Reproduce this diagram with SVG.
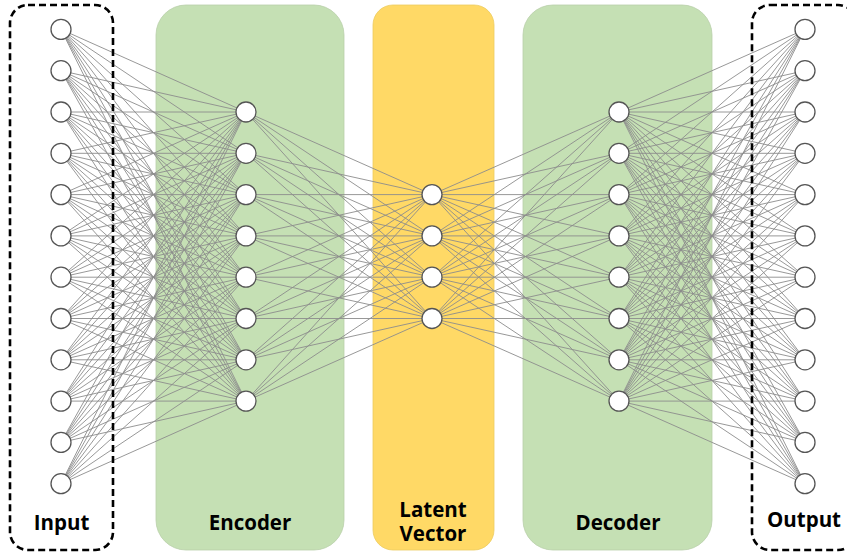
<svg xmlns="http://www.w3.org/2000/svg" width="847" height="555" viewBox="0 0 847 555">
<style>
.n{fill:#fff;stroke:#555;stroke-width:1.3}
.e{fill:none;stroke:#8c8c8c;stroke-width:0.9}
.dash{fill:none;stroke:#000;stroke-width:2.6;stroke-dasharray:7 4}
.lbl{font-family:"Open Sans","Noto Sans",sans-serif;font-weight:700;font-size:20.5px;fill:#000;text-anchor:middle}
</style>
<rect width="847" height="555" fill="#fff"/>
<g id="encoder-bg"><rect x="156" y="5" width="188" height="545" rx="30" fill="#c5e0b4" stroke="#b9cfa9" stroke-width="0.8"/></g>
<g id="latent-bg"><rect x="373" y="5" width="121" height="545" rx="20" fill="#ffd966" stroke="#eccb60" stroke-width="0.8"/></g>
<g id="decoder-bg"><rect x="523" y="5" width="189" height="545" rx="30" fill="#c5e0b4" stroke="#b9cfa9" stroke-width="0.8"/></g>
<g id="connectors">
<path class="e" d="M61 29.4L246 112M61 29.4L246 153.3M61 29.4L246 194.6M61 29.4L246 235.9M61 29.4L246 277.2M61 29.4L246 318.5M61 29.4L246 359.8M61 29.4L246 401.1
M61 70.7L246 112M61 70.7L246 153.3M61 70.7L246 194.6M61 70.7L246 235.9M61 70.7L246 277.2M61 70.7L246 318.5M61 70.7L246 359.8M61 70.7L246 401.1
M61 112L246 112M61 112L246 153.3M61 112L246 194.6M61 112L246 235.9M61 112L246 277.2M61 112L246 318.5M61 112L246 359.8M61 112L246 401.1
M61 153.3L246 112M61 153.3L246 153.3M61 153.3L246 194.6M61 153.3L246 235.9M61 153.3L246 277.2M61 153.3L246 318.5M61 153.3L246 359.8M61 153.3L246 401.1
M61 194.6L246 112M61 194.6L246 153.3M61 194.6L246 194.6M61 194.6L246 235.9M61 194.6L246 277.2M61 194.6L246 318.5M61 194.6L246 359.8M61 194.6L246 401.1
M61 235.9L246 112M61 235.9L246 153.3M61 235.9L246 194.6M61 235.9L246 235.9M61 235.9L246 277.2M61 235.9L246 318.5M61 235.9L246 359.8M61 235.9L246 401.1
M61 277.2L246 112M61 277.2L246 153.3M61 277.2L246 194.6M61 277.2L246 235.9M61 277.2L246 277.2M61 277.2L246 318.5M61 277.2L246 359.8M61 277.2L246 401.1
M61 318.5L246 112M61 318.5L246 153.3M61 318.5L246 194.6M61 318.5L246 235.9M61 318.5L246 277.2M61 318.5L246 318.5M61 318.5L246 359.8M61 318.5L246 401.1
M61 359.8L246 112M61 359.8L246 153.3M61 359.8L246 194.6M61 359.8L246 235.9M61 359.8L246 277.2M61 359.8L246 318.5M61 359.8L246 359.8M61 359.8L246 401.1
M61 401.1L246 112M61 401.1L246 153.3M61 401.1L246 194.6M61 401.1L246 235.9M61 401.1L246 277.2M61 401.1L246 318.5M61 401.1L246 359.8M61 401.1L246 401.1
M61 442.4L246 112M61 442.4L246 153.3M61 442.4L246 194.6M61 442.4L246 235.9M61 442.4L246 277.2M61 442.4L246 318.5M61 442.4L246 359.8M61 442.4L246 401.1
M61 483.7L246 112M61 483.7L246 153.3M61 483.7L246 194.6M61 483.7L246 235.9M61 483.7L246 277.2M61 483.7L246 318.5M61 483.7L246 359.8M61 483.7L246 401.1"/>
<path class="e" d="M246 112L432 194.6M246 112L432 235.9M246 112L432 277.2M246 112L432 318.5
M246 153.3L432 194.6M246 153.3L432 235.9M246 153.3L432 277.2M246 153.3L432 318.5
M246 194.6L432 194.6M246 194.6L432 235.9M246 194.6L432 277.2M246 194.6L432 318.5
M246 235.9L432 194.6M246 235.9L432 235.9M246 235.9L432 277.2M246 235.9L432 318.5
M246 277.2L432 194.6M246 277.2L432 235.9M246 277.2L432 277.2M246 277.2L432 318.5
M246 318.5L432 194.6M246 318.5L432 235.9M246 318.5L432 277.2M246 318.5L432 318.5
M246 359.8L432 194.6M246 359.8L432 235.9M246 359.8L432 277.2M246 359.8L432 318.5
M246 401.1L432 194.6M246 401.1L432 235.9M246 401.1L432 277.2M246 401.1L432 318.5"/>
<path class="e" d="M619 112L432 194.6M619 112L432 235.9M619 112L432 277.2M619 112L432 318.5
M619 153.3L432 194.6M619 153.3L432 235.9M619 153.3L432 277.2M619 153.3L432 318.5
M619 194.6L432 194.6M619 194.6L432 235.9M619 194.6L432 277.2M619 194.6L432 318.5
M619 235.9L432 194.6M619 235.9L432 235.9M619 235.9L432 277.2M619 235.9L432 318.5
M619 277.2L432 194.6M619 277.2L432 235.9M619 277.2L432 277.2M619 277.2L432 318.5
M619 318.5L432 194.6M619 318.5L432 235.9M619 318.5L432 277.2M619 318.5L432 318.5
M619 359.8L432 194.6M619 359.8L432 235.9M619 359.8L432 277.2M619 359.8L432 318.5
M619 401.1L432 194.6M619 401.1L432 235.9M619 401.1L432 277.2M619 401.1L432 318.5"/>
<path class="e" d="M805 29.4L619 112M805 29.4L619 153.3M805 29.4L619 194.6M805 29.4L619 235.9M805 29.4L619 277.2M805 29.4L619 318.5M805 29.4L619 359.8M805 29.4L619 401.1
M805 70.7L619 112M805 70.7L619 153.3M805 70.7L619 194.6M805 70.7L619 235.9M805 70.7L619 277.2M805 70.7L619 318.5M805 70.7L619 359.8M805 70.7L619 401.1
M805 112L619 112M805 112L619 153.3M805 112L619 194.6M805 112L619 235.9M805 112L619 277.2M805 112L619 318.5M805 112L619 359.8M805 112L619 401.1
M805 153.3L619 112M805 153.3L619 153.3M805 153.3L619 194.6M805 153.3L619 235.9M805 153.3L619 277.2M805 153.3L619 318.5M805 153.3L619 359.8M805 153.3L619 401.1
M805 194.6L619 112M805 194.6L619 153.3M805 194.6L619 194.6M805 194.6L619 235.9M805 194.6L619 277.2M805 194.6L619 318.5M805 194.6L619 359.8M805 194.6L619 401.1
M805 235.9L619 112M805 235.9L619 153.3M805 235.9L619 194.6M805 235.9L619 235.9M805 235.9L619 277.2M805 235.9L619 318.5M805 235.9L619 359.8M805 235.9L619 401.1
M805 277.2L619 112M805 277.2L619 153.3M805 277.2L619 194.6M805 277.2L619 235.9M805 277.2L619 277.2M805 277.2L619 318.5M805 277.2L619 359.8M805 277.2L619 401.1
M805 318.5L619 112M805 318.5L619 153.3M805 318.5L619 194.6M805 318.5L619 235.9M805 318.5L619 277.2M805 318.5L619 318.5M805 318.5L619 359.8M805 318.5L619 401.1
M805 359.8L619 112M805 359.8L619 153.3M805 359.8L619 194.6M805 359.8L619 235.9M805 359.8L619 277.2M805 359.8L619 318.5M805 359.8L619 359.8M805 359.8L619 401.1
M805 401.1L619 112M805 401.1L619 153.3M805 401.1L619 194.6M805 401.1L619 235.9M805 401.1L619 277.2M805 401.1L619 318.5M805 401.1L619 359.8M805 401.1L619 401.1
M805 442.4L619 112M805 442.4L619 153.3M805 442.4L619 194.6M805 442.4L619 235.9M805 442.4L619 277.2M805 442.4L619 318.5M805 442.4L619 359.8M805 442.4L619 401.1
M805 483.7L619 112M805 483.7L619 153.3M805 483.7L619 194.6M805 483.7L619 235.9M805 483.7L619 277.2M805 483.7L619 318.5M805 483.7L619 359.8M805 483.7L619 401.1"/>
</g>
<g id="input">
<rect class="dash" x="10" y="5" width="103" height="545" rx="18"/>
<circle class="n" cx="61" cy="29.4" r="10"/><circle class="n" cx="61" cy="70.7" r="10"/><circle class="n" cx="61" cy="112" r="10"/><circle class="n" cx="61" cy="153.3" r="10"/><circle class="n" cx="61" cy="194.6" r="10"/><circle class="n" cx="61" cy="235.9" r="10"/><circle class="n" cx="61" cy="277.2" r="10"/><circle class="n" cx="61" cy="318.5" r="10"/><circle class="n" cx="61" cy="359.8" r="10"/><circle class="n" cx="61" cy="401.1" r="10"/><circle class="n" cx="61" cy="442.4" r="10"/><circle class="n" cx="61" cy="483.7" r="10"/>
<text class="lbl" x="61.5" y="530">Input</text>
</g>
<g id="encoder">
<circle class="n" cx="246" cy="112" r="10"/><circle class="n" cx="246" cy="153.3" r="10"/><circle class="n" cx="246" cy="194.6" r="10"/><circle class="n" cx="246" cy="235.9" r="10"/><circle class="n" cx="246" cy="277.2" r="10"/><circle class="n" cx="246" cy="318.5" r="10"/><circle class="n" cx="246" cy="359.8" r="10"/><circle class="n" cx="246" cy="401.1" r="10"/>
<text class="lbl" x="250" y="530">Encoder</text>
</g>
<g id="latent">
<circle class="n" cx="432" cy="194.6" r="10"/><circle class="n" cx="432" cy="235.9" r="10"/><circle class="n" cx="432" cy="277.2" r="10"/><circle class="n" cx="432" cy="318.5" r="10"/>
<text class="lbl" x="433" y="517">Latent</text>
<text class="lbl" x="433" y="541">Vector</text>
</g>
<g id="decoder">
<circle class="n" cx="619" cy="112" r="10"/><circle class="n" cx="619" cy="153.3" r="10"/><circle class="n" cx="619" cy="194.6" r="10"/><circle class="n" cx="619" cy="235.9" r="10"/><circle class="n" cx="619" cy="277.2" r="10"/><circle class="n" cx="619" cy="318.5" r="10"/><circle class="n" cx="619" cy="359.8" r="10"/><circle class="n" cx="619" cy="401.1" r="10"/>
<text class="lbl" x="618" y="530">Decoder</text>
</g>
<g id="output">
<rect class="dash" x="752" y="5" width="104" height="545" rx="18"/>
<circle class="n" cx="805" cy="29.4" r="10"/><circle class="n" cx="805" cy="70.7" r="10"/><circle class="n" cx="805" cy="112" r="10"/><circle class="n" cx="805" cy="153.3" r="10"/><circle class="n" cx="805" cy="194.6" r="10"/><circle class="n" cx="805" cy="235.9" r="10"/><circle class="n" cx="805" cy="277.2" r="10"/><circle class="n" cx="805" cy="318.5" r="10"/><circle class="n" cx="805" cy="359.8" r="10"/><circle class="n" cx="805" cy="401.1" r="10"/><circle class="n" cx="805" cy="442.4" r="10"/><circle class="n" cx="805" cy="483.7" r="10"/>
<text class="lbl" x="804" y="527">Output</text>
</g>
</svg>
